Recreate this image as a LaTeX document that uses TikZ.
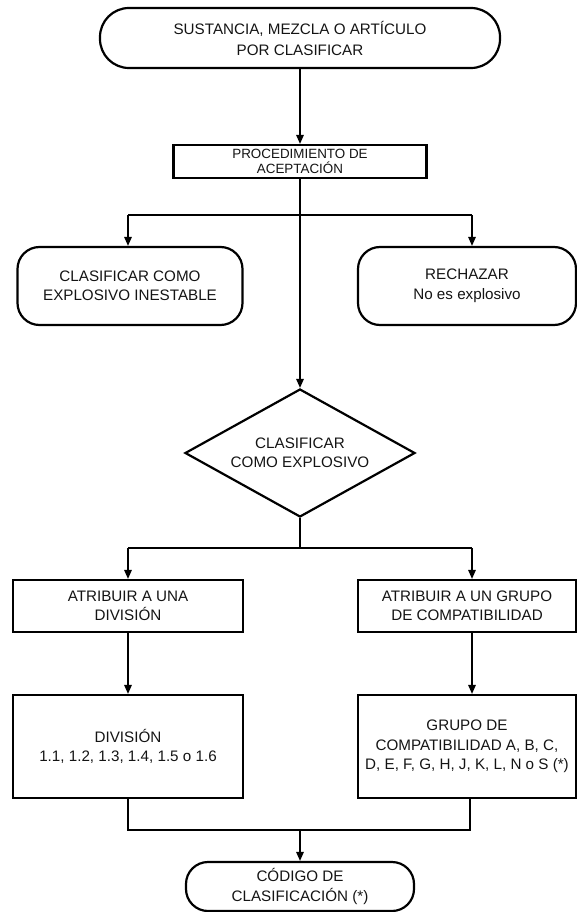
\documentclass[tikz,border=0pt]{standalone}
\usepackage{fontspec}
\setmainfont{Liberation Sans}
\usetikzlibrary{shapes.geometric,arrows.meta}
\begin{document}
\begin{tikzpicture}[x=1pt,y=-1pt,
  base/.style={draw=black, line width=2.2pt, align=center, inner sep=0pt,
    font=\fontsize{15.2}{19.5}\selectfont, text=black!92},
  terminal/.style={base, rectangle, rounded corners=#1},
  terminal/.default=22pt,
  stepbox/.style={base, rectangle},
  decision/.style={base, diamond, aspect=1.8},
  link/.style={line width=1.5pt},
  arr/.style={link, -{Triangle[length=9pt,width=7.5pt]}}]
\useasboundingbox (0,0) rectangle (577,912);

% nodes
\node[terminal=29pt, minimum width=400pt, minimum height=60pt,
      font=\fontsize{15.2}{21}\selectfont] (start) at (300,38)
      {SUSTANCIA, MEZCLA O ARTÍCULO\\POR CLASIFICAR};
\node[stepbox, minimum width=253pt, minimum height=33pt,
      font=\fontsize{13.4}{15}\selectfont] (accept) at (300,161.5)
      {PROCEDIMIENTO DE\\ACEPTACIÓN};
\node[terminal, minimum width=225pt, minimum height=78pt] (unstable) at (130,286)
      {CLASIFICAR COMO\\EXPLOSIVO INESTABLE};
\node[terminal, minimum width=218pt, minimum height=78pt] (reject) at (467,286)
      {RECHAZAR\\No es explosivo};
\node[decision, minimum width=230pt, minimum height=128pt] (explosive) at (300,453)
      {CLASIFICAR\\COMO EXPLOSIVO};
\node[stepbox, minimum width=230pt, minimum height=52pt] (division) at (128,606)
      {ATRIBUIR A UNA\\DIVISIÓN};
\node[stepbox, minimum width=218pt, minimum height=52pt] (group) at (467,606)
      {ATRIBUIR A UN GRUPO\\DE COMPATIBILIDAD};
\node[stepbox, minimum width=230pt, minimum height=103pt] (divlist) at (128,746.5)
      {DIVISIÓN\\1.1, 1.2, 1.3, 1.4, 1.5 o 1.6};
\node[stepbox, minimum width=218pt, minimum height=103pt] (grplist) at (467,746.5)
      {GRUPO DE\\COMPATIBILIDAD A, B, C,\\D, E, F, G, H, J, K, L, N o S (*)};
\node[terminal, minimum width=228pt, minimum height=49pt] (code) at (300,886.5)
      {CÓDIGO DE\\CLASIFICACIÓN (*)};

% junction points
\coordinate (bL) at (128,215);
\coordinate (bR) at (472,215);
\coordinate (jC) at (300,548);
\coordinate (jL) at (128,548);
\coordinate (jR) at (472,548);
\coordinate (mL) at (128,830);
\coordinate (mC) at (300,830);
\coordinate (mR) at (470,830);

% connectors
\draw[arr] (start) -- (accept);
\draw[arr] (accept) -- (explosive);
\draw[link] (bL) -- (bR);
\draw[arr] (bL) -- (bL |- unstable.north);
\draw[arr] (bR) -- (bR |- reject.north);
\draw[link] (explosive.south) -- (jC);
\draw[link] (jL) -- (jR);
\draw[arr] (jL) -- (jL |- division.north);
\draw[arr] (jR) -- (jR |- group.north);
\draw[arr] (division.south) -- (divlist.north);
\draw[arr] (jR |- group.south) -- (jR |- grplist.north);
\draw[link] (mL |- divlist.south) -- (mL) -- (mR) -- (mR |- grplist.south);
\draw[arr] (mC) -- (code);
\end{tikzpicture}
\end{document}
